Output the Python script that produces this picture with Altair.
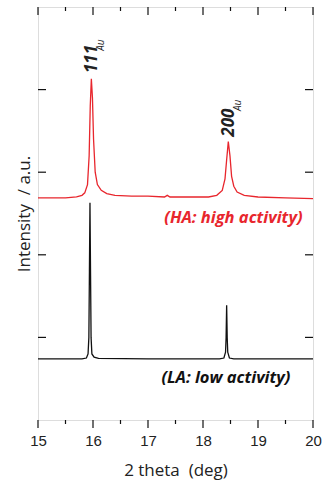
import altair as alt
import pandas as pd

# HA (high activity) pattern, red
ha_x = [15.0, 15.5, 15.7, 15.8, 15.85, 15.9, 15.93, 15.95, 15.97, 15.99, 16.01, 16.04,
        16.08, 16.15, 16.25, 16.4, 16.7, 17.0, 17.3, 17.35, 17.4, 17.8, 18.1, 18.25,
        18.35, 18.4, 18.43, 18.46, 18.49, 18.52, 18.56, 18.62, 18.75, 19.0, 19.5, 20.0]
ha_y = [2.69, 2.69, 2.70, 2.72, 2.75, 2.85, 3.2, 3.8, 4.13, 3.9, 3.4, 3.0,
        2.85, 2.78, 2.74, 2.72, 2.71, 2.71, 2.70, 2.72, 2.70, 2.70, 2.70, 2.72,
        2.78, 2.92, 3.15, 3.37, 3.2, 2.95, 2.83, 2.76, 2.72, 2.70, 2.69, 2.68]

# LA (low activity) pattern, black
la_x = [15.0, 15.8, 15.88, 15.91, 15.925, 15.935, 15.945, 15.955, 15.965, 15.98, 16.02,
        16.1, 17.0, 18.3, 18.38, 18.41, 18.42, 18.43, 18.44, 18.45, 18.48, 18.56, 20.0]
la_y = [0.74, 0.74, 0.75, 0.80, 1.0, 1.8, 2.63, 1.8, 1.0, 0.80, 0.76,
        0.745, 0.74, 0.74, 0.75, 0.82, 1.0, 1.39, 1.0, 0.82, 0.75, 0.74, 0.74]

# peak annotations
peak_lbl = ["111", "200"]
peak_x = [15.99, 18.47]
peak_y = [4.20, 3.43]
sub_lbl = ["Au", "Au"]
sub_x = [16.15, 18.63]
sub_y = [4.47, 3.74]

# sample annotations
samp_lbl = ["(HA: high activity)", "(LA: low activity)"]
samp_x = [19.81, 19.59]
samp_y = [2.45, 0.51]
samp_col = ["#e8262d", "#111111"]

x_major = [15, 16, 17, 18, 19, 20]
x_minor = [15.5, 16.5, 17.5, 18.5, 19.5]
y_major = [1, 2, 3, 4]

W, H = 275, 413
xs = alt.Scale(domain=[15, 20], nice=False, zero=False)
ys = alt.Scale(domain=[0, 5], nice=False, zero=False)

ha = pd.DataFrame({"x": ha_x, "y": ha_y})
la = pd.DataFrame({"x": la_x, "y": la_y})

base_axis_x = alt.Axis(values=x_major, format="d", ticks=False, domain=False, grid=False,
                       labelFlush=False,
                       labelFont="Liberation Sans", labelFontSize=15, labelColor="#222",
                       labelPadding=13, title="2\u00a0theta\u00a0\u00a0(deg)",
                       titleFont="Open Sans", titleFontSize=17, titleFontWeight="normal",
                       titleColor="#222", titlePadding=14)
base_axis_y = alt.Axis(values=y_major, labels=False, ticks=False, domain=False, grid=False,
                       title="Intensity\u00a0\u00a0/\u00a0a.u.", titleFont="Open Sans",
                       titleFontSize=17, titleFontWeight="normal", titleColor="#222",
                       titlePadding=5)

red = alt.Chart(ha).mark_line(color="#e8262d", strokeWidth=1.3).encode(
    x=alt.X("x:Q", scale=xs, axis=base_axis_x),
    y=alt.Y("y:Q", scale=ys, axis=base_axis_y),
)
black = alt.Chart(la).mark_line(color="#111111", strokeWidth=1.3).encode(
    x=alt.X("x:Q", scale=xs),
    y=alt.Y("y:Q", scale=ys),
)

pk = pd.DataFrame({"t": peak_lbl, "x": peak_x, "y": peak_y})
peaks = alt.Chart(pk).mark_text(angle=270, align="left", baseline="middle",
                                font="Open Sans", fontSize=17, fontWeight="bold",
                                fontStyle="italic", color="#222").encode(
    x=alt.X("x:Q", scale=xs), y=alt.Y("y:Q", scale=ys), text="t:N")
sb = pd.DataFrame({"t": sub_lbl, "x": sub_x, "y": sub_y})
subs = alt.Chart(sb).mark_text(angle=270, align="left", baseline="middle",
                               font="Open Sans", fontSize=10, fontStyle="italic",
                               color="#222").encode(
    x=alt.X("x:Q", scale=xs), y=alt.Y("y:Q", scale=ys), text="t:N")

sm = pd.DataFrame({"t": samp_lbl, "x": samp_x, "y": samp_y, "c": samp_col})
samples = alt.Chart(sm).mark_text(align="right", baseline="middle", font="Open Sans",
                                  fontSize=16.5, fontWeight="bold", fontStyle="italic").encode(
    x=alt.X("x:Q", scale=xs), y=alt.Y("y:Q", scale=ys), text="t:N",
    color=alt.Color("c:N", scale=None))

xmaj = pd.DataFrame({"x": x_major})
xmin = pd.DataFrame({"x": x_minor})
ymaj = pd.DataFrame({"y": y_major})
tk = dict(color="#111", strokeWidth=1.2)
ticks = [
    alt.Chart(xmaj).mark_rule(**tk).encode(x=alt.X("x:Q", scale=xs), y=alt.value(H), y2=alt.value(H + 8)),
    alt.Chart(xmin).mark_rule(**tk).encode(x=alt.X("x:Q", scale=xs), y=alt.value(H), y2=alt.value(H + 4)),
    alt.Chart(xmaj).mark_rule(**tk).encode(x=alt.X("x:Q", scale=xs), y=alt.value(0), y2=alt.value(8)),
    alt.Chart(xmin).mark_rule(**tk).encode(x=alt.X("x:Q", scale=xs), y=alt.value(0), y2=alt.value(4)),
    alt.Chart(ymaj).mark_rule(**tk).encode(y=alt.Y("y:Q", scale=ys), x=alt.value(0), x2=alt.value(8)),
    alt.Chart(ymaj).mark_rule(**tk).encode(y=alt.Y("y:Q", scale=ys), x=alt.value(W), x2=alt.value(W - 8)),
]

chart = alt.layer(red, black, peaks, subs, samples, *ticks).properties(
    width=W, height=H,
    autosize=alt.AutoSizeParams(type="none"),
    padding={"left": 38, "top": 7, "right": 19, "bottom": 64},
).configure_view(stroke="#111", strokeWidth=1.5).configure(background="white")

chart.save("out.html", embed_options={"renderer": "svg", "actions": False})
